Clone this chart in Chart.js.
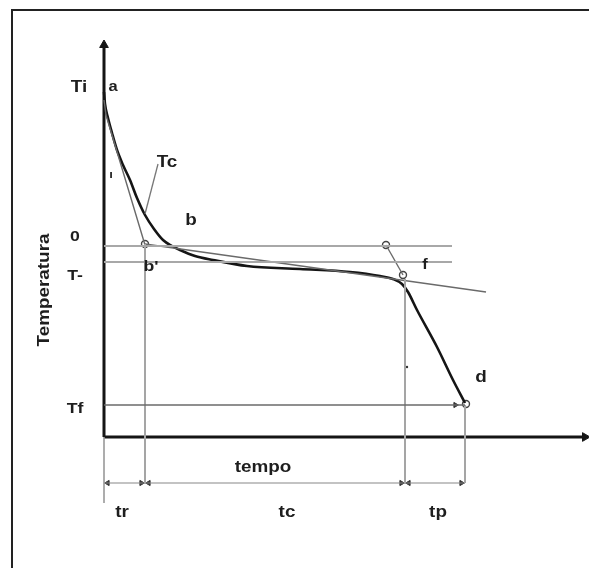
<!DOCTYPE html>
<html>
<head>
<meta charset="utf-8">
<script src="https://cdn.jsdelivr.net/npm/chart.js"></script>
<style>
  html, body { margin: 0; padding: 0; background: #fff; }
  #wrap { position: relative; width: 589px; height: 568px; overflow: hidden; }
  #frame { position: absolute; left: 11px; top: 9px; width: 600px; height: 600px;
           border-top: 2px solid #222; border-left: 2px solid #222; pointer-events: none; }
  canvas { position: absolute; left: 0; top: 0; }
</style>
</head>
<body>
<div id="wrap">
  <canvas id="c" width="589" height="568"></canvas>
  <div id="frame"></div>
</div>
<script>
// ---- data (time units, temperature units) ----
const curveTime = [0, 0.25, 1, 2, 3.25, 4.75, 6.5, 8.25, 10.25, 12.5, 14.75, 17, 19, 22.75, 27.25, 35.75, 49, 61.5, 69, 72.25, 74.5, 76, 78.25, 83.25, 87.25, 90.25];
const curveTemp = [86.25, 83.25, 79.75, 76, 71.75, 68, 64.25, 59.75, 55.5, 52, 49.25, 47.75, 46.75, 45.25, 44.25, 42.75, 42, 41.25, 40.25, 39.5, 38.25, 36.25, 31.75, 22.5, 14.25, 8.5];

const secantTime = [0, 0.5, 10.25];
const secantTemp = [84.25, 80.5, 48];

const tangentTime = [10.25, 95.5];
const tangentTemp = [48.25, 36.25];

const fLineTime = [70.5, 74.75];
const fLineTemp = [48, 40.5];

const levelNames = ['0', 'T-', 'Tf'];
const levelTemp = [47.75, 43.75, 8];
const levelEnd = [87, 87, 90.25];
const levelTi = 87.25;

const markTime = [0, 10.25, 75.25, 90.25];   // tr start, tr/tc, tc/tp, tp end
const dimLevel = -11.5;
const axisTimeMax = 120.25;
const axisTempMax = 98;

const circleTime = [10.25, 70.5, 74.75, 90.5];
const circleTemp = [48.25, 48, 40.5, 8.25];

const leaderTime = [13.5, 10.25];
const leaderTemp = [68.25, 55.75];

// ---- helpers building datasets ----
function pts(xs, ys) { return xs.map((x, i) => ({ x: x, y: ys[i] })); }
function line(data, color, width, extra) {
  return Object.assign({ data: data, showLine: true, borderColor: color, borderWidth: width,
    pointRadius: 0, fill: false, clip: false, tension: 0 }, extra || {});
}

const datasets = [];
// horizontal level lines
levelTemp.forEach((t, i) => {
  datasets.push(line([{ x: 0, y: t }, { x: levelEnd[i], y: t }], i < 2 ? '#a8a8a8' : '#6a6a6a', i < 2 ? 2 : 1.3));
});
// vertical marker lines
datasets.push(line([{ x: markTime[0], y: 0 }, { x: markTime[0], y: dimLevel - 5 }], '#999', 1.6));
datasets.push(line([{ x: markTime[1], y: circleTemp[0] }, { x: markTime[1], y: dimLevel }], '#a5a5a5', 2));
datasets.push(line([{ x: markTime[2], y: 39.5 }, { x: markTime[2], y: dimLevel }], '#a5a5a5', 2));
datasets.push(line([{ x: markTime[3], y: levelTemp[2] }, { x: markTime[3], y: dimLevel }], '#a5a5a5', 2));
// dimension line
datasets.push(line([{ x: markTime[0], y: dimLevel }, { x: markTime[3], y: dimLevel }], '#888', 1.2));
// secant, tangent, f-line, leader
datasets.push(line(pts(secantTime, secantTemp), '#6a6a6a', 1.4));
datasets.push(line(pts(tangentTime, tangentTemp), '#6a6a6a', 1.4));
datasets.push(line(pts(fLineTime, fLineTemp), '#6a6a6a', 1.4));
datasets.push(line(pts(leaderTime, leaderTemp), '#777', 1.3));
// main cooling curve
datasets.push(line(pts(curveTime, curveTemp), '#151515', 2.6, { cubicInterpolationMode: 'monotone' }));
// axes
datasets.push(line([{ x: 0, y: 0 }, { x: 0, y: axisTempMax }], '#151515', 3));
datasets.push(line([{ x: 0, y: 0 }, { x: axisTimeMax, y: 0 }], '#151515', 3));
// axis arrowheads
datasets.push({ data: [{ x: 0, y: axisTempMax }, { x: axisTimeMax, y: 0 }], showLine: false, clip: false,
  pointStyle: 'triangle', pointRadius: 5, rotation: [0, 90], backgroundColor: '#151515', borderColor: '#151515', borderWidth: 1 });
// dimension arrowheads
const arrowPts = [], arrowRot = [];
const gap = 0.9;
for (let i = 0; i < markTime.length - 1; i++) {
  arrowPts.push({ x: markTime[i] + gap, y: dimLevel }); arrowRot.push(270);
  arrowPts.push({ x: markTime[i + 1] - gap, y: dimLevel }); arrowRot.push(90);
}
arrowPts.push({ x: markTime[3] - 2.4, y: levelTemp[2] }); arrowRot.push(90);
datasets.push({ data: arrowPts, showLine: false, clip: false, pointStyle: 'triangle', pointRadius: 3,
  rotation: arrowRot, backgroundColor: '#333', borderColor: '#333', borderWidth: 1 });
// small dot
datasets.push({ data: [{ x: 75.75, y: 17.5 }], showLine: false, clip: false, pointRadius: 1.2,
  backgroundColor: '#333', borderWidth: 0 });
// open circles
datasets.push({ data: pts(circleTime, circleTemp), showLine: false, clip: false, pointStyle: 'circle',
  pointRadius: 3.5, backgroundColor: '#fff', borderColor: '#444', borderWidth: 1.4 });

// ---- labels ----
const labels = [
  { t: 'Ti', x: -6.25, y: levelTi, s: 16 },
  { t: 'a', x: 2.25, y: 87.5, s: 14 },
  { t: 'Tc', x: 15.75, y: 68.5, s: 16 },
  { t: 'b', x: 21.75, y: 54, s: 16 },
  { t: levelNames[0], x: -7.25, y: 50, s: 15 },
  { t: levelNames[1], x: -7.25, y: 40.25, s: 15 },
  { t: "b'", x: 11.75, y: 42.5, s: 15 },
  { t: 'f', x: 80.25, y: 43, s: 14 },
  { t: 'd', x: 94.25, y: 14.75, s: 16 },
  { t: levelNames[2], x: -7.25, y: 7, s: 15 },
  { t: 'ı', x: 1.75, y: 65.5, s: 11 },
  { t: 'Temperatura', x: -14.9, y: 36.75, s: 16, r: -Math.PI / 2 },
  { t: 'tempo', x: 39.75, y: -7.75, s: 16 },
  { t: 'tr', x: 4.5, y: -19, s: 16 },
  { t: 'tc', x: 45.75, y: -19, s: 16 },
  { t: 'tp', x: 83.5, y: -19, s: 16 }
];
const textStretch = 1.18;

const labelPlugin = {
  id: 'labels',
  afterDatasetsDraw(chart) {
    const ctx = chart.ctx, xs = chart.scales.x, ys = chart.scales.y;
    ctx.save();
    ctx.fillStyle = '#1e1e1e';
    ctx.textAlign = 'center';
    ctx.textBaseline = 'middle';
    labels.forEach(l => {
      ctx.font = 'bold ' + l.s + 'px "Liberation Sans", Arial, sans-serif';
      const px = xs.getPixelForValue(l.x), py = ys.getPixelForValue(l.y);
      ctx.save();
      ctx.translate(px, py);
      if (l.r) ctx.rotate(l.r);
      ctx.scale(textStretch, 1);
      ctx.fillText(l.t, 0, 0);
      ctx.restore();
    });
    ctx.restore();
  }
};

new Chart(document.getElementById('c'), {
  type: 'scatter',
  data: { datasets: datasets },
  options: {
    responsive: false,
    animation: false,
    devicePixelRatio: 1,
    layout: { padding: 0, autoPadding: false },
    plugins: { legend: { display: false }, tooltip: { enabled: false } },
    scales: {
      x: { type: 'linear', display: false, min: -26, max: 121.25 },
      y: { type: 'linear', display: false, min: -32.75, max: 109.25 }
    }
  },
  plugins: [labelPlugin]
});
</script>
</body>
</html>
